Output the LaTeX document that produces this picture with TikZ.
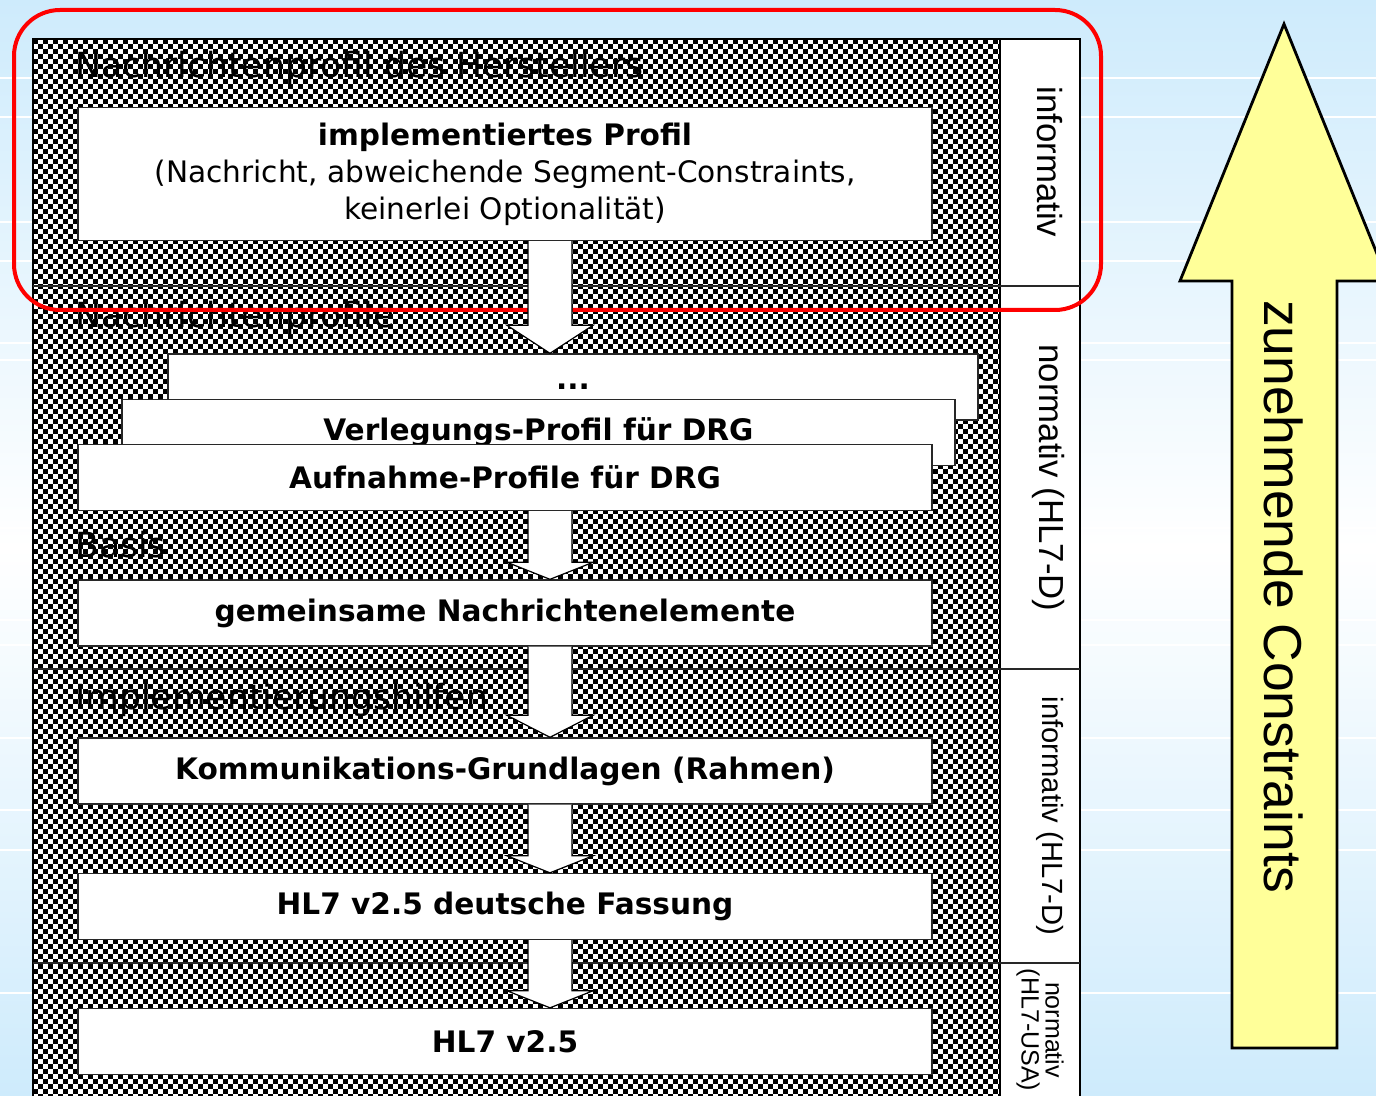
\documentclass[tikz,border=0pt]{standalone}
\usepackage{fontspec}
\usepackage{tikz}
\usetikzlibrary{calc}
\setmainfont{DejaVu Sans}
\newfontfamily\arialfont{Liberation Sans}
\definecolor{folienblau}{RGB}{206,235,252}
\definecolor{pfeilgelb}{RGB}{255,255,153}
\definecolor{kastenrand}{RGB}{40,40,40}

\tikzset{
  kasten/.style={draw=kastenrand,fill=white,line width=0.7pt,inner sep=0pt,align=center,
    minimum width=427pt,minimum height=33pt,font=\fontsize{14.8}{18.5}\selectfont\bfseries},
  ebene/.style={anchor=west,inner sep=0pt,font=\fontsize{17.3}{20}\selectfont},
  seite/.style={rotate=-90,inner sep=0pt,align=center,font=\arialfont\fontsize{17.4}{20}\selectfont},
  blockpfeil/.style={fill=white,draw=black,line width=0.6pt},
  schachzeile/.style={line width=2.5pt,dash pattern=on 2.5pt off 2.5pt}
}

\newcommand{\pfeilab}[3][17]{%
  \coordinate (pfa) at ($(#2.south)+(45,0)$);
  \coordinate (pfe) at (pfa |- #3.north);
  \filldraw[blockpfeil] ($(pfa)+(-22,0)$) -- ($(pfe)+(-22,-#1)$) -- ($(pfe)+(-43,-#1)$) -- (pfe)
    -- ($(pfe)+(43,-#1)$) -- ($(pfe)+(22,-#1)$) -- ($(pfa)+(22,0)$);}

\begin{document}
\begin{tikzpicture}[x=0.5pt,y=-0.5pt]
\useasboundingbox (0,0) rectangle (1376,1096);
\clip (0,0) rectangle (1376,1096);
\shade[top color=folienblau,bottom color=folienblau,middle color=white] (0,0) rectangle (1376,1096);
\foreach \y in {78,117,222,261,343,360,528,553,620,645,738,810,850,993}
  \draw[white,line width=0.6pt] (0,\y) -- (1376,\y);

\fill[white] (33,39) rectangle (1000,1110);
\foreach \r in {0,2,...,214}
  \draw[schachzeile] (33,41.5+5*\r) -- (1000,41.5+5*\r);
\foreach \r in {1,3,...,213}
  \draw[schachzeile,dash phase=2.5pt] (33,41.5+5*\r) -- (1000,41.5+5*\r);
\draw[line width=1pt] (33,1110) -- (33,39) -- (1000,39) -- (1000,1110);
\draw[fill=white,line width=0.8pt] (1000,39) rectangle (1080,1110);
\foreach \y in {286,669,963}
  \draw[kastenrand,line width=0.6pt] (33,\y) -- (1080,\y);

\node[ebene] (hersteller) at (75,68) {Nachrichtenprofil des Herstellers};
\node[ebene] (profile) at (75,318) {Nachrichtenprofile};
\node[ebene] (basis) at (75,545) {Basis};
\node[ebene] (hilfen) at (75,700) {Implementierungshilfen};

\node[seite] (info1) at (1050,162) {informativ};
\node[seite] (norm1) at (1048,478) {normativ (HL7-D)};
\node[seite,font=\arialfont\fontsize{14.6}{17}\selectfont] (info2) at (1050,816) {informativ (HL7-D)};
\node[seite,font=\arialfont\fontsize{12.5}{12}\selectfont] (norm2) at (1040,1030) {normativ\\(HL7-USA)};

\draw[red,line width=2pt,rounded corners=23pt] (14,10) rectangle (1101,310);

\node[kasten,minimum height=66.5pt,font=\fontsize{14.8}{18.5}\selectfont] (profil) at (505,174)
  {{\bfseries implementiertes Profil}\\(Nachricht, abweichende Segment-Constraints,\\keinerlei Optionalität)};
\node[kasten,minimum width=405pt] (weitere) at (573,387) {...};
\node[kasten,minimum width=416.5pt] (verlegung) at (538.5,432.5) {Verlegungs-Profil für DRG};
\node[kasten] (aufnahme) at (505,477.5) {Aufnahme-Profile für DRG};
\node[kasten] (gemeinsam) at (505,613) {gemeinsame Nachrichtenelemente};
\node[kasten] (komm) at (505,771) {Kommunikations-Grundlagen (Rahmen)};
\node[kasten] (fassung) at (505,906.5) {HL7 v2.5 deutsche Fassung};
\node[kasten] (hlsieben) at (505,1041.5) {HL7 v2.5};

\pfeilab[28]{profil}{weitere}
\pfeilab[17]{aufnahme}{gemeinsam}
\pfeilab[22]{gemeinsam}{komm}
\pfeilab[17]{komm}{fassung}
\pfeilab[17]{fassung}{hlsieben}

\filldraw[fill=pfeilgelb,draw=black,line width=1.4pt] (1284,24) -- (1388,281) -- (1337,281)
  -- (1337,1048) -- (1232,1048) -- (1232,281) -- (1180,281) -- cycle;
\node[rotate=-90,inner sep=0pt,font=\arialfont\fontsize{26.7}{30}\selectfont] (zunahme) at (1284,597)
  {zunehmende Constraints};
\end{tikzpicture}
\end{document}
